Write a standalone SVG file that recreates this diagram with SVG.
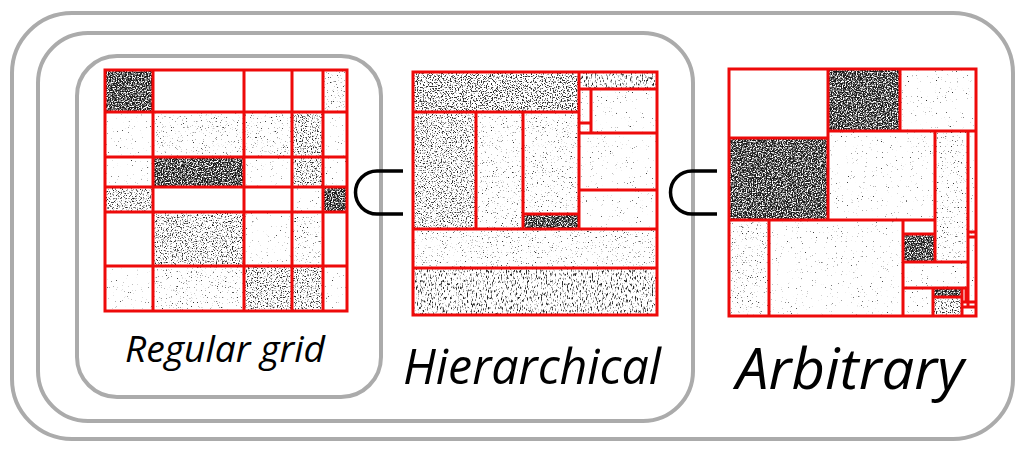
<svg xmlns="http://www.w3.org/2000/svg" width="1024" height="452" viewBox="0 0 1024 452">
<style>
.cont{fill:none;stroke:#ababab;stroke-width:4}
.red{fill:none;stroke:#ee0a0a;stroke-width:3}
.cell{fill:#000}
.sub{fill:none;stroke:#000;stroke-width:3.5;stroke-linecap:butt}
.lbl{font-family:"Open Sans","DejaVu Sans",sans-serif;font-style:italic;fill:#000}
</style>
<defs>
<filter id="dk" x="0" y="0" width="1" height="1" color-interpolation-filters="sRGB">
<feTurbulence type="fractalNoise" baseFrequency="0.8" numOctaves="2" seed="2"/>
<feColorMatrix type="matrix" values="0 0 0 0 0.1 0 0 0 0 0.1 0 0 0 0 0.1 -4 0 0 0 2.7"/>
<feComposite in2="SourceGraphic" operator="in"/>
</filter>
<filter id="md" x="0" y="0" width="1" height="1" color-interpolation-filters="sRGB">
<feTurbulence type="fractalNoise" baseFrequency="0.8" numOctaves="2" seed="5"/>
<feColorMatrix type="matrix" values="0 0 0 0 0.15 0 0 0 0 0.15 0 0 0 0 0.15 -5 0 0 0 2.35"/>
<feComposite in2="SourceGraphic" operator="in"/>
</filter>
<filter id="lt" x="0" y="0" width="1" height="1" color-interpolation-filters="sRGB">
<feTurbulence type="fractalNoise" baseFrequency="0.8" numOctaves="2" seed="7"/>
<feColorMatrix type="matrix" values="0 0 0 0 0.2 0 0 0 0 0.2 0 0 0 0 0.2 -6 0 0 0 2.1"/>
<feComposite in2="SourceGraphic" operator="in"/>
</filter>
<filter id="vl" x="0" y="0" width="1" height="1" color-interpolation-filters="sRGB">
<feTurbulence type="fractalNoise" baseFrequency="0.8" numOctaves="2" seed="9"/>
<feColorMatrix type="matrix" values="0 0 0 0 0.2 0 0 0 0 0.2 0 0 0 0 0.2 -7 0 0 0 2.0"/>
<feComposite in2="SourceGraphic" operator="in"/>
</filter>
<filter id="st" x="0" y="0" width="1" height="1" color-interpolation-filters="sRGB">
<feTurbulence type="fractalNoise" baseFrequency="0.8 0.3" numOctaves="2" seed="4"/>
<feColorMatrix type="matrix" values="0 0 0 0 0.15 0 0 0 0 0.15 0 0 0 0 0.15 -5 0 0 0 2.3"/>
<feComposite in2="SourceGraphic" operator="in"/>
</filter>
</defs>
<rect width="1024" height="452" fill="#fff"/>

<g id="container-arbitrary"><rect class="cont" x="12" y="13" width="1001" height="426" rx="60" ry="60"/></g>
<g id="container-hierarchical"><rect class="cont" x="38" y="33" width="655" height="388" rx="50" ry="50"/></g>
<g id="container-regular"><rect class="cont" x="77" y="56" width="304" height="341" rx="40" ry="40"/></g>

<g id="matrix-regular">
<rect class="cell" filter="url(#dk)" x="105" y="70" width="48" height="42"/>
<rect class="cell" filter="url(#lt)" x="323" y="70" width="24" height="42"/>
<rect class="cell" filter="url(#vl)" x="105" y="112" width="48" height="45"/>
<rect class="cell" filter="url(#lt)" x="153" y="112" width="91" height="45"/>
<rect class="cell" filter="url(#lt)" x="244" y="112" width="48" height="45"/>
<rect class="cell" filter="url(#md)" x="292" y="112" width="31" height="45"/>
<rect class="cell" filter="url(#vl)" x="323" y="112" width="24" height="45"/>
<rect class="cell" filter="url(#vl)" x="105" y="157" width="48" height="30"/>
<rect class="cell" filter="url(#dk)" x="153" y="157" width="91" height="30"/>
<rect class="cell" filter="url(#vl)" x="244" y="157" width="48" height="30"/>
<rect class="cell" filter="url(#md)" x="292" y="157" width="31" height="30"/>
<rect class="cell" filter="url(#vl)" x="323" y="157" width="24" height="30"/>
<rect class="cell" filter="url(#md)" x="105" y="187" width="48" height="25"/>
<rect class="cell" filter="url(#vl)" x="292" y="187" width="31" height="25"/>
<rect class="cell" filter="url(#dk)" x="323" y="187" width="24" height="25"/>
<rect class="cell" filter="url(#md)" x="153" y="212" width="91" height="54"/>
<rect class="cell" filter="url(#vl)" x="244" y="212" width="48" height="54"/>
<rect class="cell" filter="url(#lt)" x="292" y="212" width="31" height="54"/>
<rect class="cell" filter="url(#vl)" x="105" y="266" width="48" height="45"/>
<rect class="cell" filter="url(#lt)" x="153" y="266" width="91" height="45"/>
<rect class="cell" filter="url(#md)" x="244" y="266" width="48" height="45"/>
<rect class="cell" filter="url(#md)" x="292" y="266" width="31" height="45"/>
<rect class="cell" filter="url(#vl)" x="323" y="266" width="24" height="45"/>
<rect class="red" x="105" y="70" width="242" height="241"/>
<path class="red" d="M153,70V311M244,70V311M292,70V311M323,70V311M105,112H347M105,157H347M105,187H347M105,212H347M105,266H347"/>
</g>

<g id="matrix-hierarchical">
<rect class="cell" filter="url(#md)" x="413" y="72" width="166" height="40"/>
<rect class="cell" filter="url(#md)" x="413" y="72" width="166" height="40"/>
<rect class="cell" filter="url(#st)" x="579" y="72" width="78" height="17"/>
<rect class="cell" filter="url(#md)" x="413" y="112" width="63" height="117"/>
<rect class="cell" filter="url(#lt)" x="476" y="112" width="47" height="117"/>
<rect class="cell" filter="url(#lt)" x="523" y="112" width="56" height="102"/>
<rect class="cell" filter="url(#dk)" x="523" y="214" width="56" height="15"/>
<rect class="cell" filter="url(#vl)" x="579" y="89" width="78" height="140"/>
<rect class="cell" filter="url(#lt)" x="413" y="229" width="244" height="39"/>
<rect class="cell" filter="url(#st)" x="413" y="268" width="244" height="47"/>
<rect class="red" x="413" y="72" width="244" height="243"/>
<path class="red" d="M413,112H579M579,72V229M413,229H657M413,268H657M579,89H657M591,89V133M579,123H591M579,133H657M579,190H657M476,112V229M523,112V229M523,214H579"/>
</g>

<g id="matrix-arbitrary">
<rect class="cell" filter="url(#dk)" x="828" y="69" width="72" height="62"/>
<rect class="cell" filter="url(#vl)" x="900" y="69" width="76" height="62"/>
<rect class="cell" filter="url(#dk)" x="729" y="138" width="99" height="82"/>
<rect class="cell" filter="url(#vl)" x="828" y="131" width="107" height="89"/>
<rect class="cell" filter="url(#lt)" x="935" y="131" width="33" height="131"/>
<rect class="cell" filter="url(#vl)" x="968" y="131" width="8" height="185"/>
<rect class="cell" filter="url(#lt)" x="729" y="220" width="40" height="96"/>
<rect class="cell" filter="url(#vl)" x="769" y="220" width="134" height="96"/>
<rect class="cell" filter="url(#dk)" x="903" y="234" width="32" height="28"/>
<rect class="cell" filter="url(#vl)" x="903" y="262" width="65" height="26"/>
<rect class="cell" filter="url(#vl)" x="903" y="288" width="30" height="28"/>
<rect class="cell" filter="url(#dk)" x="933" y="288" width="29" height="9"/>
<rect class="cell" filter="url(#md)" x="933" y="297" width="29" height="19"/>
<rect class="red" x="729" y="69" width="247" height="247"/>
<path class="red" d="M828,69V220M900,69V131M729,138H828M828,131H976M729,220H935M935,131V262M968,131V307M769,220V316M903,220V316M903,234H935M903,262H968M903,288H968M933,288V316M962,288V316M933,297H962M962,302H976M966,288V302M968,232H976M968,237H976M962,307H976"/>
</g>

<g id="connectors">
<path class="sub" d="M403,171H377A21.5,21.5 0 0 0 377,214H403"/>
<path class="sub" d="M717,171H692A21.5,21.5 0 0 0 692,214H717"/>
</g>

<g id="label-regular"><text class="lbl" x="125" y="362" font-size="36" textLength="200" lengthAdjust="spacingAndGlyphs">Regular grid</text></g>
<g id="label-hierarchical"><text class="lbl" x="403" y="384" font-size="50" textLength="258" lengthAdjust="spacingAndGlyphs">Hierarchical</text></g>
<g id="label-arbitrary"><text class="lbl" x="736" y="389" font-size="56" textLength="228" lengthAdjust="spacingAndGlyphs">Arbitrary</text></g>
</svg>
